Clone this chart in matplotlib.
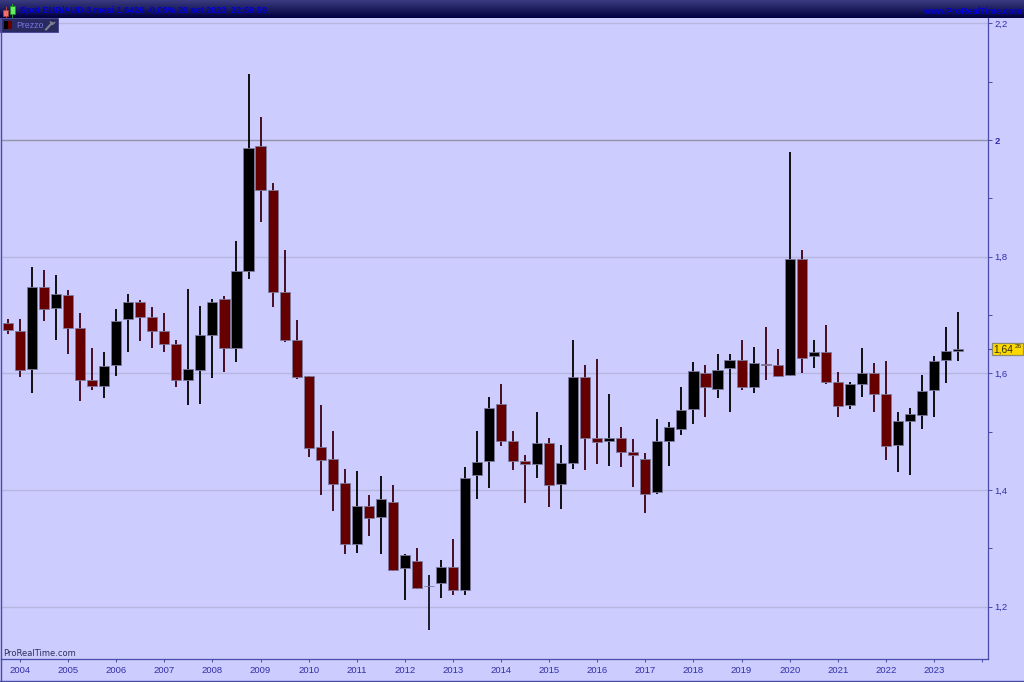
import numpy as np
import matplotlib
matplotlib.use('Agg')
import matplotlib.pyplot as plt
from matplotlib.patches import Rectangle

years = list(range(2004, 2024))
y_major = [1.2, 1.4, 1.6, 1.8, 2.0, 2.2]
y_major_labels = ['1,2', '1,4', '1,6', '1,8', '2', '2,2']
y_minor = [1.3, 1.5, 1.7, 1.9, 2.1]
last_price = 1.6426

high = [1.693,1.693,1.783,1.778,1.769,1.743,1.704,1.644,1.636,1.711,1.736,1.725,1.714,1.704,1.658,1.744,
        1.716,1.727,1.733,1.827,2.113,2.039,1.927,1.811,1.692,1.596,1.546,1.501,1.436,1.433,1.392,1.425,
        1.408,1.290,1.301,1.254,1.281,1.317,1.440,1.502,1.559,1.582,1.502,1.460,1.533,1.489,1.477,1.658,
        1.614,1.625,1.565,1.509,1.487,1.464,1.522,1.516,1.577,1.619,1.614,1.634,1.634,1.657,1.645,1.679,
        1.642,1.979,1.811,1.658,1.683,1.603,1.586,1.644,1.617,1.622,1.534,1.540,1.597,1.630,1.679,1.706]
body_top = [1.686,1.673,1.748,1.748,1.736,1.734,1.677,1.588,1.613,1.690,1.722,1.722,1.697,1.672,1.650,1.607,
            1.665,1.722,1.727,1.775,1.987,1.990,1.915,1.740,1.658,1.596,1.474,1.453,1.412,1.372,1.372,1.385,
            1.379,1.289,1.278,1.236,1.269,1.268,1.421,1.449,1.541,1.547,1.485,1.450,1.480,1.481,1.446,1.594,
            1.594,1.489,1.490,1.490,1.465,1.454,1.484,1.508,1.537,1.604,1.601,1.605,1.623,1.623,1.617,1.616,
            1.614,1.796,1.796,1.636,1.636,1.586,1.581,1.601,1.601,1.564,1.518,1.531,1.570,1.621,1.638,1.642]
body_bottom = [1.674,1.605,1.608,1.710,1.712,1.677,1.588,1.579,1.578,1.615,1.693,1.697,1.672,1.650,1.588,1.589,
               1.605,1.666,1.643,1.644,1.776,1.915,1.740,1.657,1.594,1.473,1.452,1.410,1.307,1.308,1.352,1.354,
               1.263,1.266,1.233,1.236,1.240,1.228,1.229,1.426,1.450,1.485,1.450,1.444,1.445,1.409,1.410,1.447,
               1.490,1.482,1.484,1.466,1.460,1.394,1.397,1.485,1.504,1.539,1.577,1.574,1.609,1.577,1.576,1.614,
               1.596,1.597,1.627,1.629,1.586,1.544,1.545,1.582,1.564,1.476,1.478,1.519,1.529,1.571,1.623,1.638]
low = [1.668,1.594,1.567,1.689,1.657,1.634,1.552,1.572,1.558,1.596,1.636,1.656,1.643,1.636,1.576,1.546,
       1.548,1.592,1.603,1.620,1.761,1.859,1.714,1.653,1.591,1.457,1.392,1.364,1.291,1.292,1.322,1.291,
       1.261,1.212,1.231,1.160,1.215,1.221,1.221,1.384,1.403,1.476,1.434,1.378,1.420,1.371,1.367,1.436,
       1.434,1.445,1.442,1.440,1.406,1.361,1.394,1.441,1.494,1.514,1.526,1.557,1.533,1.571,1.567,1.588,
       1.594,1.596,1.601,1.609,1.581,1.525,1.539,1.560,1.534,1.451,1.431,1.426,1.504,1.525,1.583,1.622]
direction = list('rrkrkrrrkkkrrrrkkkrkkrrrrrrrrkrkrkrdkrkkkrrrkrkkrrkrrrkkkkrkkrkrrkrkrrkkrrkkkkkk')

BG = '#CCCCFF'
AXC = '#4A4AA8'
TXT = '#3030A8'
W, H = 1024, 682
plt.rcParams['font.family'] = ['Liberation Sans', 'DejaVu Sans']

fig = plt.figure(figsize=(W / 100, H / 100), dpi=100, facecolor=BG)
ax = fig.add_axes([1 / W, 1 - 658.5 / H, 986.5 / W, 640.5 / H], facecolor=BG)

idx = np.arange(len(high))
wick_col = {'r': '#3A0012', 'k': '#000000', 'd': '#101020'}
ax.vlines(idx, low, high, colors=[wick_col[d] for d in direction], lw=1.3, zorder=3)
face = {'r': '#660000', 'k': '#000000', 'd': '#80808F'}
ax.bar(idx, np.array(body_top) - np.array(body_bottom), bottom=body_bottom, width=0.84,
       color=[face[d] for d in direction], edgecolor='#7E7A9E', linewidth=0.6, zorder=4)

ax.set_xlim(-0.582, 81.45)
ax.set_ylim(1.1114, 2.2091)

for v in y_major:
    c = '#9494A8' if v == 2.0 else '#B6B6DE'
    ax.axhline(v, color=c, lw=1.0, zorder=1)

for s in ('left', 'top'):
    ax.spines[s].set_visible(False)
for s in ('right', 'bottom'):
    ax.spines[s].set_color(AXC)
    ax.spines[s].set_linewidth(0.9)
ax.yaxis.tick_right()
ax.set_yticks(y_major)
ax.set_yticklabels(y_major_labels)
ax.set_yticks(y_minor, minor=True)
ax.tick_params(axis='y', which='both', length=3, width=0.7, color=AXC, pad=2,
               labelsize=6.8, labelcolor=TXT)
for lab, v in zip(ax.get_yticklabels(), y_major):
    if v == 2.0:
        lab.set_fontweight('bold')
tick_pos = [1 + 4 * k for k in range(len(years) + 1)]
ax.set_xticks(tick_pos)
ax.set_xticklabels([str(y) for y in years] + [''])
ax.tick_params(axis='x', length=2.5, width=0.7, color=AXC, pad=3, labelsize=6.8, labelcolor=TXT)

ov = fig.add_axes([0, 0, 1, 1], facecolor='none')
ov.axis('off')
grad = np.linspace(0, 1, 18)[:, None, None]
top_c = np.array([0x3A, 0x3A, 0x80]) / 255
bot_c = np.array([0x00, 0x00, 0x40]) / 255
ov.imshow(top_c + (bot_c - top_c) * grad, extent=(0, W, 18, 0), aspect='auto', zorder=5, interpolation='bilinear')
ov.set_xlim(0, W)
ov.set_ylim(H, 0)

ov.plot([5.5, 5.5], [7, 17], color='#C04040', lw=0.7, zorder=6)
ov.add_patch(Rectangle((3, 9.5), 5, 6, fc='#F07070', ec='#A04040', lw=0.5, zorder=7))
ov.plot([12.3, 12.3], [3.5, 16.5], color='#20A020', lw=0.7, zorder=6)
ov.add_patch(Rectangle((10, 6), 5, 8, fc='#60F060', ec='#209020', lw=0.5, zorder=7))
ov.text(20, 10.5, 'Spot EUR/AUD 3 mesi 1,6426 -0,08% 29 set 2023, 22:59:59', color='#0000D8',
        fontsize=6.45, fontweight='bold', va='center', ha='left', zorder=8)
ov.text(1022, 11, 'www.ProRealTime.com', color='#0000D8', fontsize=6.5, fontweight='bold',
        va='center', ha='right', zorder=8)

ov.add_patch(Rectangle((0, 18), 58, 14, fc='#2A2A62', ec='#4A4A98', lw=0.7, zorder=6))
ov.add_patch(Rectangle((4, 21), 4, 8, fc='#000000', ec='none', zorder=7))
ov.add_patch(Rectangle((8, 21), 4, 8, fc='#660000', ec='none', zorder=7))
ov.text(16, 25.3, 'Prezzo', color='#7474E4', fontsize=6.3, va='center', ha='left', zorder=8)
ov.plot([46, 52], [29.5, 23], color='#80808C', lw=1.5, zorder=7)
ov.plot([50.5, 52.5, 54.5], [22, 24.5, 22.5], color='#80808C', lw=1.1, zorder=7)

ov.plot([0.5, 0.5], [18, 682], color=AXC, lw=1.0, zorder=6)
ov.plot([0, W], [680.8, 680.8], color=AXC, lw=1.0, zorder=6)

ov.text(3, 653.5, 'ProRealTime.com', color='#30305A', fontsize=6.0, va='center', ha='left',
        family='DejaVu Sans', zorder=6)

y_px = 140 + (2.0 - last_price) * 583.5
ov.plot([987.5, 992], [y_px, y_px], color=AXC, lw=0.8, zorder=6)
ov.add_patch(Rectangle((992, 342.5), 30.5, 12.5, fc='#FFD800', ec='#8C8C6A', lw=0.9, zorder=7))
ov.text(993.5, 349.2, '1,64', color='#303010', fontsize=7.4, va='center', ha='left', zorder=8)
ov.text(1014.5, 346.8, '26', color='#303010', fontsize=4.6, va='center', ha='left', zorder=8)

fig.savefig('out.png', dpi=100, facecolor=BG)
